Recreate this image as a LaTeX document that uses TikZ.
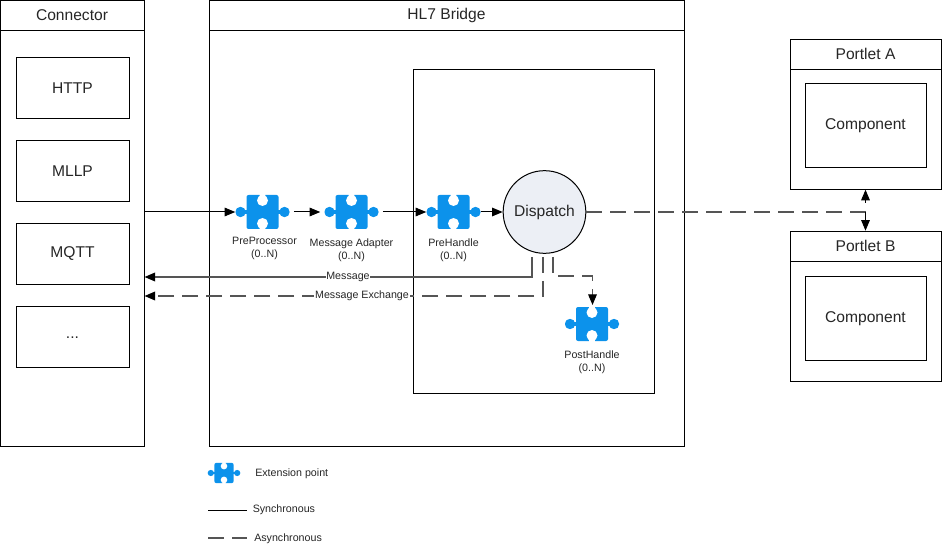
\documentclass[tikz,border=0pt]{standalone}
\usepackage{fontspec}
\setmainfont{Liberation Sans}
\usetikzlibrary{arrows.meta,positioning}
\definecolor{puzzleblue}{HTML}{0C92EB}
\definecolor{dispatchfill}{HTML}{ECEFF5}
\definecolor{flowgray}{HTML}{555555}
\definecolor{textgray}{HTML}{262626}
\tikzset{
    >={Triangle[length=8pt,width=6.5pt,color=black]},
    box/.style = {draw, line width=0.75pt, inner sep=0pt},
    titlebox/.style = {box, anchor=north, minimum height=22.5pt, text=textgray, font=\fontsize{11.7}{14}\selectfont},
    protocol/.style = {box, minimum width=84.75pt, minimum height=45.75pt, text=textgray, font=\fontsize{11.7}{14}\selectfont},
    component/.style = {box, minimum width=90.75pt, minimum height=63pt, text=textgray, font=\fontsize{11.7}{14}\selectfont},
    small/.style = {inner sep=0pt, text=textgray, align=center, font=\fontsize{8}{9.75}\selectfont},
    puzzle/.style = {minimum width=40.5pt, minimum height=25.5pt, inner sep=0pt, path picture={
        \begin{scope}[shift={(path picture bounding box.center)}, x=#1, y=-#1]
            \fill[puzzleblue, rounded corners=1.5pt] (-16,-17) rectangle (16,17);
            \fill[puzzleblue] (-22,-2) rectangle (22,2);
            \fill[puzzleblue] (-22,0) circle (5.2) (22,0) circle (5.2);
            \fill[white] (0,-11.5) circle (5.5) (0,11.5) circle (5.5);
            \fill[white] (-2.8,-18) rectangle (2.8,-11.5) (-2.8,11.5) rectangle (2.8,18);
        \end{scope}}},
    puzzle/.default = 0.75pt,
    sync/.style = {line width=0.75pt},
    async/.style = {line width=0.9pt, draw=flowgray, dash pattern=on 12pt off 6pt},
    flow/.style = {line width=1.1pt, draw=flowgray},
    flowdash/.style = {line width=1.1pt, draw=flowgray, dash pattern=on 12pt off 6pt}
}
\begin{document}
\begin{tikzpicture}[x=0.75pt, y=-0.75pt]
\useasboundingbox (0,0) rectangle (942,545);

% outer boxes
\node (connector) [box, minimum width=108pt, minimum height=334.5pt] at (72,223.5) {};
\node (connectortitle) [titlebox, minimum width=108pt] at (connector.north) {Connector};
\node (bridge) [box, minimum width=356.25pt, minimum height=334.5pt] at (446.5,223.5) {};
\node (bridgetitle) [titlebox, minimum width=356.25pt] at (bridge.north) {HL7 Bridge};
\node (inner) [box, minimum width=180.75pt, minimum height=243pt] at (533.5,231.2) {};

% protocols
\node (http) [protocol] at (72.5,87.7) {HTTP};
\node (mllp) [protocol] at (72.5,170.7) {MLLP};
\node (mqtt) [protocol] at (72.5,253.7) {MQTT};
\node (others) [protocol] at (72.5,336.7) {\raisebox{-3pt}{...}};

% portlets
\node (portleta) [box, minimum width=113.25pt, minimum height=112.5pt] at (865.5,114.2) {};
\node (portletatitle) [titlebox, minimum width=113.25pt] at (portleta.north) {Portlet A};
\node (componenta) [component] at (865.5,125.2) {Component};
\node (portletb) [box, minimum width=113.25pt, minimum height=112.5pt] at (865.5,306.2) {};
\node (portletbtitle) [titlebox, minimum width=113.25pt] at (portletb.north) {Portlet B};
\node (componentb) [component] at (865.5,318.2) {Component};

% extension points
\node (pre) [puzzle] at (262.5,212) {};
\node (adapter) [puzzle] at (351.5,212) {};
\node (prehandle) [puzzle] at (453.5,212) {};
\node (post) [puzzle] at (592,324) {};
\node (dispatch) [circle, draw, line width=0.75pt, fill=dispatchfill, minimum size=62pt, inner sep=0pt, text=textgray, font=\fontsize{11.7}{14}\selectfont] at (544.5,212) {Dispatch};
\node (prelabel) [small, below=6pt of pre, xshift=1.5pt] {PreProcessor\\(0..N)};
\node (adapterlabel) [small, below=7pt of adapter] {Message Adapter\\(0..N)};
\node (prehandlelabel) [small, below=7pt of prehandle] {PreHandle\\(0..N)};
\node (postlabel) [small, below=7pt of post] {PostHandle\\(0..N)};

\coordinate (msgstart) at (532,257);
\coordinate (msgbend) at (532,277);
\coordinate (exstart) at (543,257);
\coordinate (exbend) at (543,296);
\coordinate (poststart) at (553,257);
\coordinate (postbend) at (553,276);
\coordinate (postturn) at (592.5,276);
\coordinate (postend) at (592.5,305);
\coordinate (portletjoin) at (865.5,212);
\coordinate (portletgap) at (865.5,203);

% connectors
\draw [sync, ->] (connector.east |- pre.west) -- (pre.west);
\draw [sync, ->, shorten <=3pt, shorten >=3pt] (pre.east) -- (adapter.west);
\draw [sync, ->, shorten <=3pt] (adapter.east) -- (prehandle.west);
\draw [sync, ->] (prehandle.east) -- (dispatch.west);
\draw [async] (dispatch.east) -- (portletjoin);
\draw [sync, ->] (portletjoin) -- (portletb.north);
\draw [sync, ->] (portletgap) -- (portleta.south);
\draw [flow, ->] (msgstart) -- (msgbend) -- (connector.east |- msgbend);
\draw [flowdash, ->] (exstart) -- (exbend) -- (connector.east |- exbend);
\draw [async, ->] (poststart) -- (postbend) -- (postturn) -- (postend);
\node (msglabel) [small, fill=white, inner xsep=0.5pt, inner ysep=0.5pt] at (348,277) {Message};
\node (exlabel) [small, fill=white, inner xsep=0.5pt, inner ysep=0.5pt] at (362,296) {Message Exchange};

% legend
\node (legendpiece) [puzzle=0.45pt, minimum width=25pt, minimum height=16pt] at (224,473) {};
\node (legendpoint) [small, anchor=west] at (255,473.5) {Extension point};
\coordinate (syncleft) at (208,510);
\coordinate (syncright) at (247,510);
\draw [sync] (syncleft) -- (syncright);
\node (legendsync) [small, anchor=west] at (252.5,510) {Synchronous};
\coordinate (asyncleft) at (208,538);
\coordinate (asyncright) at (247,538);
\draw [async] (asyncleft) -- (asyncright);
\node (legendasync) [small, anchor=west] at (254,538.5) {Asynchronous};
\end{tikzpicture}
\end{document}
